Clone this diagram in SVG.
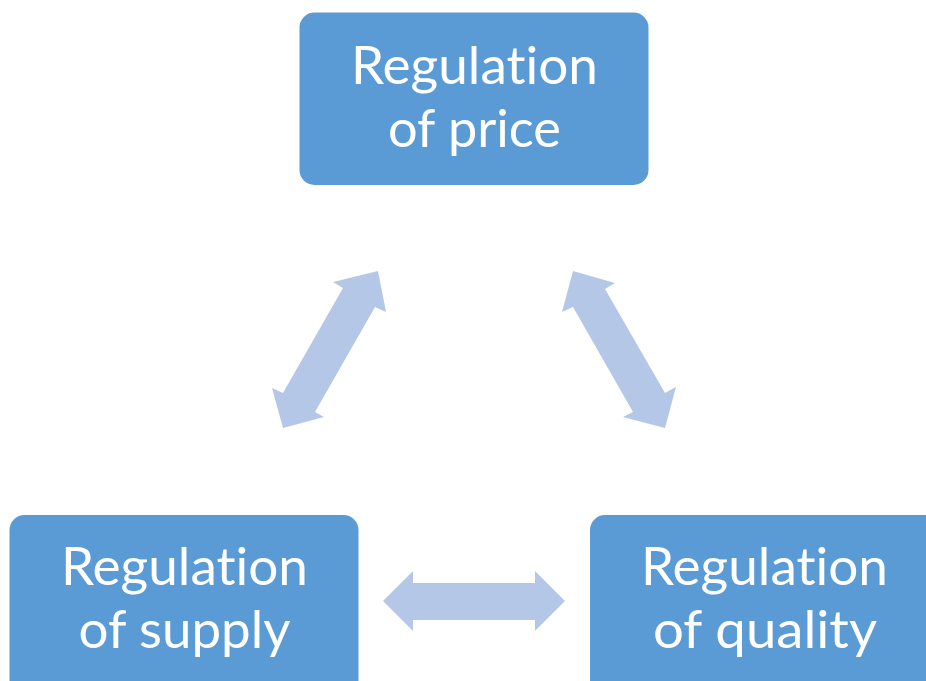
<svg xmlns="http://www.w3.org/2000/svg" width="926" height="681" viewBox="0 0 926 681">
<style>
.box{fill:#5B9BD5}
.lbl{fill:#FFFFFF;font-family:Lato,"Open Sans","Liberation Sans",sans-serif;font-size:52px;text-anchor:middle;font-variant-ligatures:none;font-feature-settings:"liga" 0,"dlig" 0}
.arr{fill:#B4C7E7}
</style>
<rect width="926" height="681" fill="#FFFFFF"/>
<g id="connectors">
<polygon class="arr" points="378,271 386,312 375,307 315,412 324,417 283,428 272,388 283,393 343,288 333,282"/>
<polygon class="arr" points="573,271 615,283 605,289 665,393 676,387 665,428 623,417 633,412 573,307 562,312"/>
<polygon class="arr" points="383,601 413,571 413,583 535,583 535,571 565,601 535,631 535,620 413,620 413,631"/>
</g>
<g id="node-price">
<rect class="box" x="299.5" y="12.5" width="349" height="172.5" rx="15"/>
<text class="lbl" x="474.5" y="83.5" textLength="247" lengthAdjust="spacingAndGlyphs">Regulation</text>
<text class="lbl" x="474.5" y="146.5" textLength="173" lengthAdjust="spacingAndGlyphs">of price</text>
</g>
<g id="node-supply">
<rect class="box" x="9.5" y="515" width="349" height="190" rx="15"/>
<text class="lbl" x="184.5" y="585" textLength="247" lengthAdjust="spacingAndGlyphs">Regulation</text>
<text class="lbl" x="184.5" y="648" textLength="212" lengthAdjust="spacingAndGlyphs">of supply</text>
</g>
<g id="node-quality">
<rect class="box" x="590" y="515" width="349" height="190" rx="15"/>
<text class="lbl" x="764.5" y="585" textLength="247" lengthAdjust="spacingAndGlyphs">Regulation</text>
<text class="lbl" x="765" y="648" textLength="224" lengthAdjust="spacingAndGlyphs">of quality</text>
</g>
</svg>
